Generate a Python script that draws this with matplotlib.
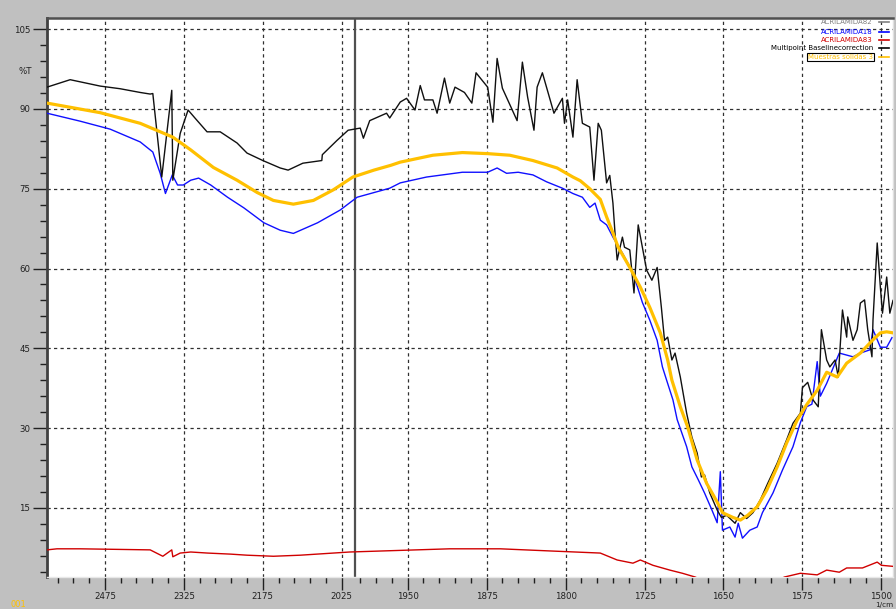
import matplotlib
matplotlib.use('Agg')
import matplotlib.pyplot as plt
import numpy as np

# espectros IR (numero de onda 1/cm, %T)
wn_black = [2585, 2541, 2484, 2446, 2408, 2389, 2384, 2367, 2348, 2346, 2332, 2317, 2304, 2281,
            2256, 2224, 2205, 2175, 2142, 2127, 2099, 2063, 2062, 2034, 2013, 1995, 1992, 1986,
            1970, 1967, 1957, 1951, 1943, 1938, 1934, 1926, 1922, 1915, 1910, 1905, 1896, 1889,
            1885, 1874, 1869, 1865, 1860, 1846, 1841, 1836, 1830, 1827, 1822, 1811, 1803, 1801,
            1798, 1793, 1789, 1784, 1777, 1773, 1769, 1766, 1761, 1758, 1755, 1753, 1751, 1746,
            1744, 1739, 1735, 1731, 1727, 1723, 1718, 1713, 1709, 1706, 1703, 1699, 1696, 1691,
            1685, 1680, 1675, 1671, 1668, 1663, 1656, 1652, 1647, 1639, 1634, 1628, 1622, 1615,
            1608, 1599, 1590, 1584, 1577, 1575, 1570, 1565, 1560, 1557, 1552, 1549, 1544, 1541,
            1537, 1533, 1532, 1527, 1523, 1520, 1516, 1513, 1509, 1508, 1504, 1501, 1499, 1495,
            1492, 1489]
t_black = [94.1, 95.5, 94.3, 93.8, 93.1, 92.8, 92.9, 77.2, 93.5, 76.6, 85.4, 89.8, 88.3, 85.7,
           85.7, 83.6, 81.7, 80.3, 78.9, 78.5, 79.8, 80.3, 81.4, 84.1, 86.0, 86.4, 84.5, 87.8,
           89.2, 88.3, 91.3, 92.0, 89.8, 94.4, 91.7, 91.7, 89.2, 95.8, 91.1, 94.1, 93.1, 91.1,
           96.8, 94.1, 87.5, 99.5, 93.9, 87.8, 98.8, 92.2, 86.0, 94.1, 96.8, 89.2, 92.0, 87.3,
           91.7, 84.7, 95.5, 87.3, 86.6, 76.6, 87.3, 86.0, 76.1, 77.5, 72.3, 66.6, 61.6, 65.9,
           64.0, 63.5, 55.4, 68.2, 64.0, 59.7, 57.8, 60.2, 52.7, 46.5, 47.1, 42.8, 44.1, 39.6,
           32.8, 28.3, 25.3, 20.8, 21.2, 17.8, 14.6, 13.2, 13.6, 12.1, 14.1, 13.0, 14.1, 16.5,
           19.6, 23.4, 27.8, 30.9, 32.8, 37.6, 38.6, 35.3, 34.0, 48.5, 42.8, 41.5, 42.8, 39.6,
           52.2, 47.1, 50.9, 46.5, 48.5, 53.5, 54.1, 48.5, 43.4, 50.3, 64.8, 56.5, 51.6, 58.4,
           51.6, 54.0]

wn_blue = [2585, 2522, 2465, 2408, 2384, 2370, 2360, 2347, 2337, 2326, 2312, 2297, 2274, 2242,
           2211, 2173, 2142, 2117, 2071, 2028, 1998, 1967, 1957, 1932, 1898, 1874, 1865, 1856,
           1845, 1831, 1818, 1803, 1793, 1784, 1777, 1772, 1767, 1761, 1755, 1746, 1736, 1727,
           1720, 1713, 1708, 1704, 1698, 1694, 1685, 1680, 1674, 1668, 1661, 1656, 1653, 1651,
           1644, 1639, 1636, 1632, 1625, 1618, 1613, 1603, 1594, 1584, 1577, 1571, 1566, 1561,
           1558, 1552, 1540, 1527, 1520, 1511, 1508, 1501, 1495, 1490]
t_blue = [89.2, 87.7, 86.2, 83.8, 81.9, 77.9, 74.1, 77.6, 75.7, 75.7, 76.6, 77.0, 75.7, 73.4,
          71.4, 68.6, 67.2, 66.6, 68.6, 71.0, 73.4, 75.1, 76.1, 77.2, 78.1, 78.1, 78.9, 77.9,
          78.1, 77.6, 76.3, 75.1, 74.1, 73.4, 71.5, 72.3, 69.1, 68.2, 65.9, 62.9, 59.2, 53.6,
          50.3, 46.5, 41.5, 39.0, 35.3, 31.6, 26.5, 22.7, 20.3, 17.8, 14.6, 12.2, 21.8, 10.8,
          11.4, 9.5, 12.1, 9.3, 10.8, 11.4, 14.1, 17.8, 22.1, 26.5, 31.0, 34.0, 34.5, 42.5,
          36.0, 38.4, 44.1, 43.4, 44.1, 44.7, 48.5, 45.2, 45.2, 47.0]

wn_yellow = [2585, 2484, 2408, 2346, 2312, 2269, 2224, 2186, 2155, 2117, 2079, 2041, 2004, 1982,
             1966, 1957, 1926, 1898, 1874, 1853, 1831, 1808, 1793, 1786, 1777, 1767, 1761, 1756,
             1750, 1739, 1729, 1720, 1710, 1703, 1699, 1691, 1684, 1675, 1666, 1656, 1651, 1641,
             1634, 1627, 1618, 1609, 1599, 1590, 1580, 1571, 1561, 1552, 1542, 1533, 1520, 1508,
             1501, 1495, 1489]
t_yellow = [91.1, 89.3, 87.3, 84.7, 82.3, 79.0, 76.6, 74.3, 72.8, 72.1, 72.8, 74.8, 77.2, 78.5,
            79.4, 80.0, 81.3, 81.8, 81.6, 81.3, 80.3, 78.9, 77.2, 76.5, 75.0, 73.0, 69.7, 67.2,
            64.0, 60.2, 56.5, 52.7, 47.9, 42.8, 39.0, 34.0, 30.2, 24.0, 19.6, 16.1, 14.1, 13.2,
            12.7, 13.6, 15.2, 18.3, 22.7, 27.2, 31.5, 34.4, 37.1, 40.5, 39.6, 42.2, 44.1, 46.6,
            47.9, 48.1, 47.9]

wn_red = [2585, 2566, 2522, 2389, 2365, 2348, 2346, 2332, 2312, 2280, 2236, 2205, 2155, 2104,
          2010, 1910, 1862, 1815, 1767, 1751, 1736, 1729, 1717, 1701, 1689, 1677, 1660, 1620,
          1592, 1577, 1561, 1552, 1540, 1533, 1518, 1504, 1500, 1489]
t_red = [7.1, 7.3, 7.3, 7.1, 5.9, 7.1, 5.8, 6.5, 6.7, 6.5, 6.3, 6.1, 5.9, 6.1,
         6.7, 7.3, 7.3, 6.9, 6.5, 5.2, 4.6, 5.2, 4.2, 3.3, 2.7, 2.0, 0.5, -0.5,
         2.0, 2.7, 2.4, 3.3, 2.9, 3.7, 3.7, 4.8, 4.2, 4.0]

x_major = [2475, 2325, 2175, 2025, 1950, 1875, 1800, 1725, 1650, 1575, 1500]
y_major = [15, 30, 45, 60, 75, 90, 105]

legend_names = ['ACRILAMIDA82', 'ACRILAMIDA18', 'ACRILAMIDA83',
                'Multipoint Baselinecorrection', 'Muestras solidas 3']
legend_colors = ['#808080', '#0000FF', '#D00000', '#000000', '#FFC000']

W, H = 896, 609
bg = '#C0C0C0'

def fwd(w):
    w = np.asarray(w, dtype=float)
    return np.where(w > 2000, 2000 + (w - 2000) / 2.0, w)

def inv(u):
    u = np.asarray(u, dtype=float)
    return np.where(u > 2000, 2000 + (u - 2000) * 2.0, u)

def fx(x):
    return x / W

def fy(y):
    return 1 - y / H

plt.rcParams['font.family'] = ['DejaVu Sans']
fig = plt.figure(figsize=(W / 100, H / 100), dpi=100, facecolor=bg)
ax = fig.add_axes([fx(47), fy(577), fx(893) - fx(47), fy(18) - fy(577)])
ax.set_facecolor('white')
ax.set_xscale('function', functions=(fwd, inv))
ax.set_xlim(2585, 1489)
ax.set_ylim(2.0, 107.1)

grid_kw = dict(color='#303030', lw=0.9, ls=(0, (2.6, 2.6)), zorder=1)
for v in x_major:
    ax.axvline(v, **grid_kw)
for v in y_major:
    ax.axhline(v, **grid_kw)
ax.axvline(2000, color='#505050', lw=1.6, zorder=1)

ax.plot(wn_red, t_red, color='#D00000', lw=1.0, zorder=3)
ax.plot(wn_blue, t_blue, color='#1010FF', lw=1.0, zorder=3)
ax.plot(wn_black, t_black, color='#101010', lw=1.0, zorder=4)
ax.plot(wn_yellow, t_yellow, color='#FFC000', lw=2.3, zorder=5)

ax.set_xticks(x_major)
ax.set_xticklabels([str(v) for v in x_major])
minor_x = list(np.arange(2025, 2586, 30)) + list(np.arange(1500, 1996, 15))
ax.set_xticks([v for v in minor_x if 1489 <= v <= 2585], minor=True)
ax.set_yticks(y_major)
ax.set_yticklabels([str(v) for v in y_major])
ax.set_yticks(np.arange(3, 107, 3), minor=True)
ax.tick_params(axis='both', which='major', labelsize=6.2, colors='#202020', width=1.0)
ax.tick_params(axis='y', which='major', length=10, pad=2)
ax.tick_params(axis='y', which='minor', length=5, width=1.0, colors='#202020')
ax.tick_params(axis='x', which='major', length=9, pad=1.5)
ax.tick_params(axis='x', which='minor', length=4, width=1.0, colors='#202020')

ax.spines['left'].set_color('#404040')
ax.spines['left'].set_linewidth(2.0)
ax.spines['top'].set_color('#505050')
ax.spines['top'].set_linewidth(1.8)
ax.spines['bottom'].set_color('#E8E8E8')
ax.spines['bottom'].set_linewidth(1.0)
ax.spines['right'].set_color('#E0E0E0')
ax.spines['right'].set_linewidth(1.0)

fig.text(fx(25), fy(71), '%T', fontsize=6.2, ha='center', va='center', color='#202020')
fig.text(fx(884), fy(608.5), '1/cm', fontsize=5.2, ha='center', va='bottom', color='#202020')
fig.text(fx(10), fy(600), '001', fontsize=6.0, ha='left', va='top', color='#FFC000')

# leyenda manual arriba a la derecha
leg_y = [22, 32, 40, 48, 57]
for name, col, yy in zip(legend_names, legend_colors, leg_y):
    if name == 'Muestras solidas 3':
        fig.text(fx(873), fy(yy), name, fontsize=5.0, ha='right', va='center', color=col,
                 bbox=dict(boxstyle='square,pad=0.15', fc='white', ec='black', lw=0.8))
    else:
        fig.text(fx(873), fy(yy), name, fontsize=5.0, ha='right', va='center', color=col)
    fig.add_artist(plt.Line2D([fx(879), fx(889)], [fy(yy), fy(yy)], color=col, lw=1.2))

fig.savefig('out.png', dpi=100, facecolor=bg)
